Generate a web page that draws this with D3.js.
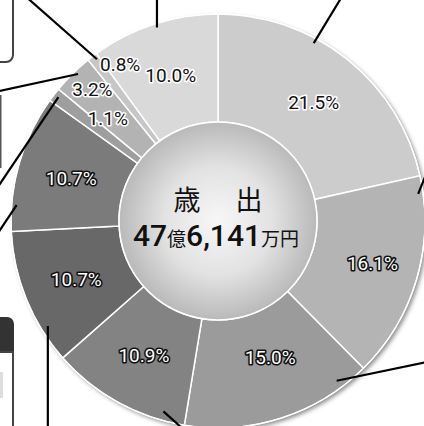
<!DOCTYPE html>
<html><head><meta charset="utf-8">
<script src="https://cdn.jsdelivr.net/npm/d3@7"></script>
<style>html,body{margin:0;padding:0;background:#fff;}svg{display:block;}</style>
</head><body>
<svg id="chart" width="424" height="426"></svg>
<script>
// ---- data ----
const categories = ["s1","s2","s3","s4","s5","s6","s7","s8","s9","s10"];
const values = [21.5, 16.1, 15.0, 10.9, 10.7, 10.7, 1.1, 3.2, 0.8, 10.0];
const colors = ["#cccccc","#b4b4b4","#9b9b9b","#838383","#686868","#7b7b7b","#9e9e9e","#b3b3b3","#c6c6c6","#d9d9d9"];
const darkLabel = [false, true, true, true, true, true, false, false, false, false];
const centerTitle = ["歳", "出"];
const totalParts = [["47", "big"], ["億", "small"], ["6,141", "big"], ["万円", "small"]];

// ---- layout ----
const svg = d3.select("#chart");
const cx = 218, cy = 221, R = 207, r0 = 99;
const defs = svg.append("defs");
const f = defs.append("filter").attr("id","sh").attr("x","-20%").attr("y","-20%").attr("width","140%").attr("height","140%");
f.append("feDropShadow").attr("dx",2.5).attr("dy",2.5).attr("stdDeviation",2.2).attr("flood-color","#000").attr("flood-opacity",0.45);
const rg = defs.append("radialGradient").attr("id","cg").attr("cx","50%").attr("cy","50%").attr("r","50%");
rg.append("stop").attr("offset","0%").attr("stop-color","#f7f7f7");
rg.append("stop").attr("offset","55%").attr("stop-color","#e2e2e2");
rg.append("stop").attr("offset","100%").attr("stop-color","#b9b9b9");

// left-side frames (partially visible neighbouring panels)
svg.append("rect").attr("x",-20).attr("y",-20).attr("width",33).attr("height",82).attr("rx",7)
  .attr("fill","#fff").attr("stroke","#444").attr("stroke-width",2);
svg.append("line").attr("x1",0.5).attr("x2",0.5).attr("y1",95).attr("y2",168).attr("stroke","#555").attr("stroke-width",2);
svg.append("rect").attr("x",-20).attr("y",317).attr("width",34).attr("height",60).attr("rx",7).attr("fill","#333");
svg.append("rect").attr("x",-20).attr("y",352).attr("width",33).attr("height",100).attr("fill","#fff").attr("stroke","#444").attr("stroke-width",2);
svg.append("rect").attr("x",0).attr("y",372).attr("width",3).attr("height",26).attr("fill","#ddd");

const g = svg.append("g").attr("transform",`translate(${cx},${cy})`);
const pie = d3.pie().sort(null).value(d => d)(values);
const arc = d3.arc().innerRadius(r0).outerRadius(R);

g.append("circle").attr("r",R).attr("fill","#999").attr("filter","url(#sh)");
g.selectAll("path.slice").data(pie).join("path").attr("class","slice")
  .attr("d",arc).attr("fill",(d,i)=>colors[i]).attr("stroke","#fff").attr("stroke-width",1.5);
g.append("circle").attr("r",R).attr("fill","none").attr("stroke","#fff").attr("stroke-width",1.2);
g.append("circle").attr("r",r0).attr("fill","url(#cg)").attr("stroke","#fff").attr("stroke-width",1.5);

// leader lines (callouts running to panels outside the frame): polar anchor + outward direction
const leaders = [
  {a:323.2, r:202, dir:[-67,-59]}, {a:342.5, r:203, dir:[0,-1]}, {a:28.3, r:202, dir:[26,-43]},
  {a:82.3, r:202, dir:[6,-15]}, {a:143.4, r:199, dir:[87,-18]}, {a:196, r:198, dir:[1,0.9]},
  {a:238.3, r:200, dir:[0,1]}, {a:274.5, r:202, dir:[-10,15]}, {a:307.8, r:202, dir:[-58,86]},
  {a:316.4, r:203, dir:[-78,17]}
];
leaders.forEach(l => {
  const t = l.a*Math.PI/180;
  const x1 = l.r*Math.sin(t), y1 = -l.r*Math.cos(t);
  const n = Math.hypot(l.dir[0], l.dir[1]);
  g.append("line").attr("x1",x1).attr("y1",y1)
    .attr("x2",x1 + l.dir[0]/n*400).attr("y2",y1 + l.dir[1]/n*400)
    .attr("stroke","#000").attr("stroke-width",2.2);
});

// slice labels: centroid, with some labels nudged
const labelTweak = {1:{r:160,da:-1.2}, 2:{r:146,da:-3.3}, 6:{r:151,da:5.5}, 7:{r:182,da:1}, 8:{r:185,da:5.5}};
const labels = g.selectAll("text.lbl").data(pie).join("text").attr("class","lbl")
  .attr("transform",(d,i)=>{
    const tw = labelTweak[i];
    let a = (d.startAngle+d.endAngle)/2, rr = (R+r0)/2;
    if (tw) { a += tw.da*Math.PI/180; rr = tw.r; }
    return `translate(${rr*Math.sin(a)},${-rr*Math.cos(a)+7})`;
  })
  .attr("text-anchor","middle")
  .style("font-family","Roboto, 'Noto Sans', sans-serif").style("font-size","19px")
  .attr("paint-order","stroke").attr("stroke-linejoin","round").attr("stroke-width",3.2)
  .attr("fill",(d,i)=>darkLabel[i]?"#fff":"#111")
  .attr("stroke",(d,i)=>darkLabel[i]?"#111":"#fff")
  .text((d,i)=>values[i].toFixed(1)+"%");

// center text
const ct = g.append("g").style("font-family","'Noto Sans CJK JP', sans-serif").attr("fill","#111");
ct.append("text").attr("x",-31).attr("y",-11).attr("text-anchor","middle").style("font-size","27px").text(centerTitle[0]);
ct.append("text").attr("x",31).attr("y",-11).attr("text-anchor","middle").style("font-size","27px").text(centerTitle[1]);
const tt = ct.append("text").attr("x",-2).attr("y",25).attr("text-anchor","middle");
totalParts.forEach(p => {
  tt.append("tspan").text(p[0])
    .style("font-family", p[1]==="big" ? "Roboto, sans-serif" : "'Noto Sans CJK JP', sans-serif")
    .style("font-size", p[1]==="big" ? "30px" : "19px")
    .style("font-weight", p[1]==="big" ? "500" : "400");
});
</script>
</body></html>
